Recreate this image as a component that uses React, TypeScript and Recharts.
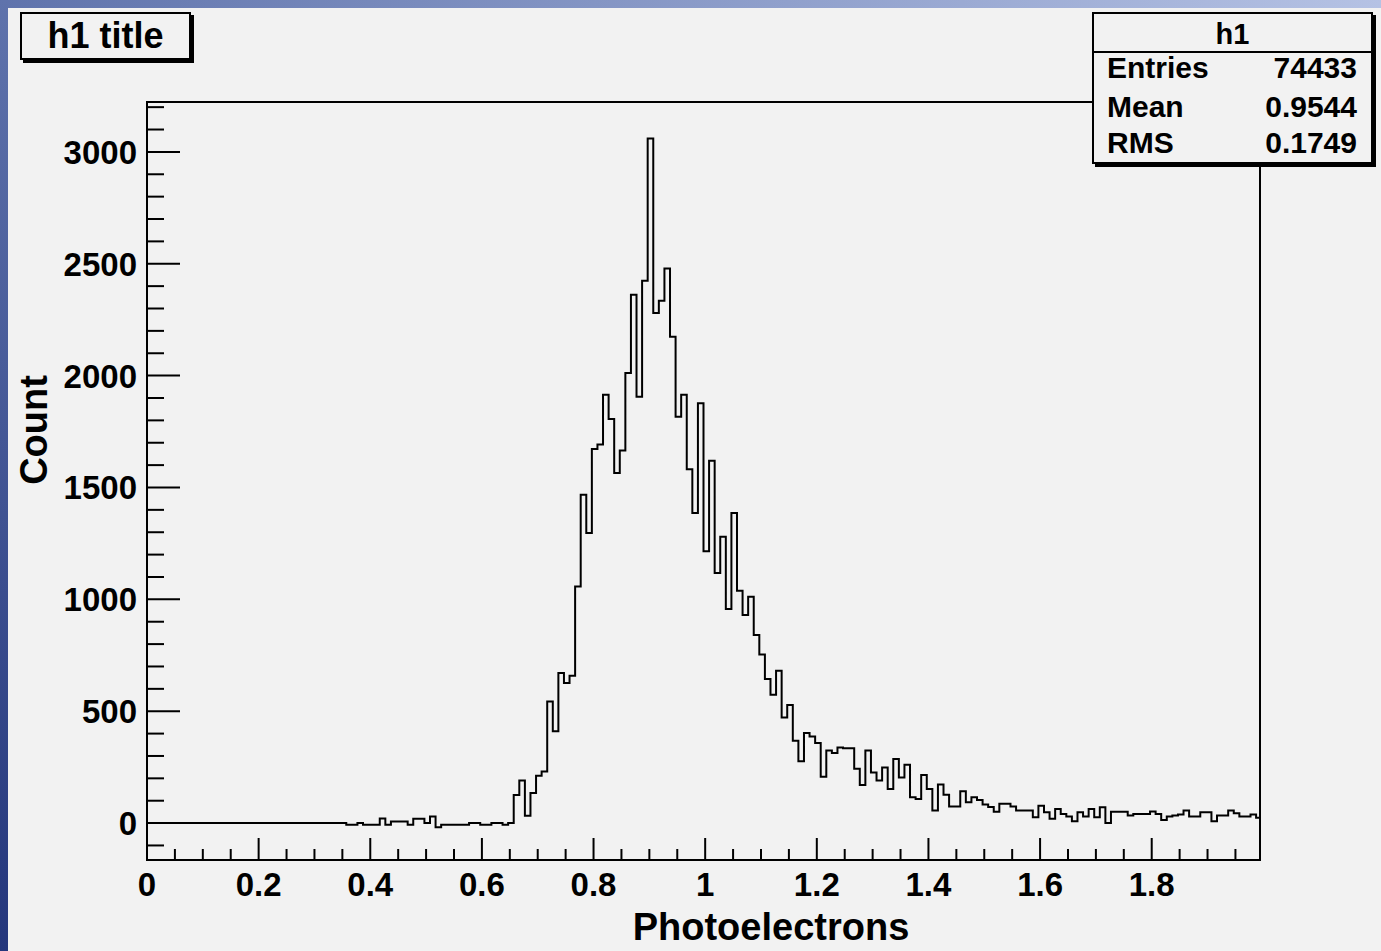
import React from 'react';
import { LineChart, Line, XAxis, YAxis, ReferenceArea } from 'recharts';

// bins are 0.01 wide, edges sit at 0.007 + 0.01*k; everything below bin 35 is empty
const binWidth = 0.01;
const binOffset = 0.007;
const firstBin = 35;
const xMax = 1.994;
const yMin = -165;
const yMax = 3223;

const counts = [
  -8, -8, 0, -8, -8, -8, 21, -8, 7, 7, 7, -8, 19, 19, 0, 29, -19, -8, -8, -8,
  -8, -8, 0, 0, -8, -8, 0, 0, -8, 0,
  126, 190, 33, 135, 212, 231, 544, 410, 671, 626, 659, 1057, 1467, 1297, 1672,
  1692, 1914, 1806, 1565, 1665, 2012, 2361, 1906, 2424, 3060, 2280, 2335, 2479,
  2174, 1816, 1914, 1582, 1386, 1877, 1215, 1620, 1118, 1280, 957, 1386, 1039,
  930, 1012, 841, 753, 644, 574, 681, 472, 528, 368, 276, 403, 387, 358, 207,
  324, 313, 338, 334, 334, 243, 170, 324, 226, 190, 249, 152, 286, 204, 261,
  115, 108, 215, 152, 56, 172, 127, 74, 74, 142, 93, 115, 103, 83, 72, 51, 86,
  86, 74, 56, 56, 56, 26, 78, 48, 19, 63, 41, 29, 8, 48, 29, 63, 26, 71, 0, 51,
  51, 51, 34, 41, 41, 41, 52, 41, 14, 29, 34, 38, 56, 29, 29, 48, 48, 8, 34, 34,
  56, 44, 29, 29, 38, 24,
];

const xMajorLabels = ['0', '0.2', '0.4', '0.6', '0.8', '1', '1.2', '1.4', '1.6', '1.8'];
const yMajorLabels = ['0', '500', '1000', '1500', '2000', '2500', '3000'];

const statsLabels = ['Entries', 'Mean', 'RMS'];
const statsValues = ['74433', '0.9544', '0.1749'];

const data = [
  { x: 0, count: 0 },
  ...counts.map((c, i) => ({ x: +(binOffset + (firstBin + i) * binWidth).toFixed(3), count: c })),
  { x: xMax, count: counts[counts.length - 1] },
];

const xTicks: number[] = [];
for (let i = 0; i <= 39; i++) xTicks.push(+(i * 0.05).toFixed(2));
const yTicks: number[] = [];
for (let v = -100; v <= 3200; v += 100) yTicks.push(v);

const font = '"Liberation Sans", Arial, Helvetica, sans-serif';

const XTick = (props: any) => {
  const { x, y, payload } = props;
  const v = payload.value;
  const idx = xMajorLabels.indexOf(String(v));
  const major = idx >= 0;
  return (
    <g>
      <line x1={x} x2={x} y1={y} y2={y - (major ? 22 : 11)} stroke="#000" strokeWidth={2} />
      {major && (
        <text x={x} y={y + 36} textAnchor="middle" fontSize={33} fontWeight={700} fontFamily={font} fill="#000">
          {xMajorLabels[idx]}
        </text>
      )}
    </g>
  );
};

const YTick = (props: any) => {
  const { x, y, payload } = props;
  const v = payload.value;
  const idx = yMajorLabels.indexOf(String(v));
  const major = idx >= 0;
  return (
    <g>
      <line x1={x} x2={x + (major ? 33 : 17)} y1={y} y2={y} stroke="#000" strokeWidth={2} />
      {major && (
        <text x={x - 10} y={y + 12} textAnchor="end" fontSize={33} fontWeight={700} fontFamily={font} fill="#000">
          {yMajorLabels[idx]}
        </text>
      )}
    </g>
  );
};

const App: React.FC = () => {
  return (
    <div style={{ position: 'absolute', left: 0, top: 0, width: 1381, height: 951, overflow: 'hidden', fontFamily: font }}>
      <div style={{ position: 'absolute', left: 0, top: 0, width: 1381, height: 8, background: 'linear-gradient(to right, #5f73ac, #b5c2e4)' }} />
      <div style={{ position: 'absolute', left: 0, top: 0, width: 8, height: 951, background: 'linear-gradient(to bottom, #5f73ac, #24367c)' }} />
      <div style={{ position: 'absolute', left: 8, top: 8, width: 1373, height: 943, background: '#f2f2f2' }} />

      <div style={{ position: 'absolute', left: 0, top: 0 }}>
        <LineChart width={1381} height={951} data={data} margin={{ top: 102, right: 121, bottom: 31, left: 27 }}>
          <XAxis
            dataKey="x"
            type="number"
            domain={[0, xMax]}
            allowDataOverflow
            ticks={xTicks}
            interval={0}
            tick={<XTick />}
            tickLine={false}
            axisLine={false}
            tickSize={0}
            tickMargin={0}
            height={60}
            label={{
              content: () => (
                <text x={771} y={940} textAnchor="middle" fontSize={38} fontWeight={700} fontFamily={font} fill="#000">
                  Photoelectrons
                </text>
              ),
            }}
          />
          <YAxis
            type="number"
            domain={[yMin, yMax]}
            allowDataOverflow
            ticks={yTicks}
            interval={0}
            tick={<YTick />}
            tickLine={false}
            axisLine={false}
            tickSize={0}
            tickMargin={0}
            width={120}
            label={{
              content: () => (
                <text x={47} y={430} transform="rotate(-90 47 430)" textAnchor="middle" fontSize={38} fontWeight={700} fontFamily={font} fill="#000">
                  Count
                </text>
              ),
            }}
          />
          <ReferenceArea x1={0} x2={xMax} y1={yMin} y2={yMax} fill="none" stroke="#000" strokeWidth={2} ifOverflow="visible" />
          <Line
            type="stepAfter"
            dataKey="count"
            stroke="#000"
            strokeWidth={2}
            dot={false}
            activeDot={false}
            isAnimationActive={false}
          />
        </LineChart>
      </div>

      <div
        style={{
          position: 'absolute', left: 20, top: 12, width: 171, height: 48, boxSizing: 'border-box',
          border: '2px solid #000', boxShadow: '3px 3px 0 #000', background: '#f2f2f2',
          fontSize: 36, fontWeight: 700, lineHeight: '44px', textAlign: 'center', color: '#000',
        }}
      >
        h1 title
      </div>

      <div
        style={{
          position: 'absolute', left: 1092, top: 12, width: 281, height: 152, boxSizing: 'border-box',
          border: '2px solid #000', boxShadow: '3px 3px 0 #000', background: '#f2f2f2', color: '#000', fontWeight: 700,
        }}
      >
        <div style={{ height: 37, borderBottom: '2px solid #000', textAlign: 'center', fontSize: 29, lineHeight: '40px' }}>h1</div>
        {statsLabels.map((lab, i) => (
          <div
            key={lab}
            style={{
              position: 'absolute', left: 13, right: 14, top: [36, 75, 111][i], height: 36, lineHeight: '36px',
              display: 'flex', justifyContent: 'space-between', fontSize: 30,
            }}
          >
            <span>{lab}</span>
            <span>{statsValues[i]}</span>
          </div>
        ))}
      </div>
    </div>
  );
};

export default App;
